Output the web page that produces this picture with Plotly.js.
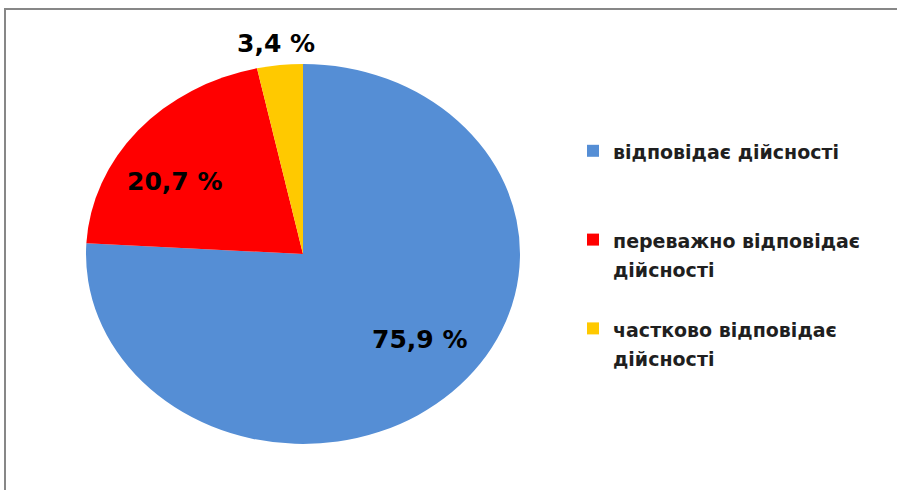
<!DOCTYPE html>
<html>
<head>
<meta charset="utf-8">
<script src="https://cdn.plot.ly/plotly-3.0.1.min.js"></script>
<style>
  html, body { margin: 0; padding: 0; background: #ffffff; overflow: hidden; }
  #chart { width: 897px; height: 490px; }
</style>
</head>
<body>
<div id="chart"></div>
<script>
// ---- data ----
const categories = [
  "відповідає дійсності",
  "переважно відповідає<br>дійсності",
  "частково відповідає<br>дійсності"
];
const values = [75.9, 20.7, 3.4];
const colors = ["#558ED5", "#FF0000", "#FFC900"];

// value label placement (paper pixels, layout only)
const labelPosPx = [[419, 339], [174, 181], [276, 44]];

const W = 897, H = 490;
const cx = 303, cyTop = 254, rx = 217, ry = 190;

// legend labels: shown at 19px, line pitch from the 22px legend font,
// with blank lines to reproduce the spacing between items
const legendLabels = categories.map((c, i) =>
  '<span style="font-size:19px">' + c + '</span>' + (c.indexOf("<br>") < 0 ? "<br>\u00a0<br>\u00a0" : "<br>\u00a0"));
const valueText = values.map(v => v.toFixed(1).replace(".", ",") + " %");

const trace = {
  type: "pie",
  labels: legendLabels,
  values: values,
  textinfo: "none",
  sort: false,
  direction: "clockwise",
  rotation: 0,
  marker: { colors: colors, line: { width: 0 } },
  hoverinfo: "none",
  domain: {
    x: [(cx - rx) / W, (cx + rx) / W],
    y: [(H - cyTop - rx) / H, (H - cyTop + rx) / H]
  }
};

const annotations = valueText.map((t, i) => ({
  text: t,
  xref: "paper", yref: "paper",
  x: labelPosPx[i][0] / W, y: 1 - labelPosPx[i][1] / H,
  xanchor: "center", yanchor: "middle",
  showarrow: false,
  font: { family: "DejaVu Sans", size: 25, color: "#000000", weight: "bold" }
}));

const layout = {
  width: W, height: H,
  margin: { l: 0, r: 0, t: 0, b: 0 },
  paper_bgcolor: "#ffffff",
  showlegend: true,
  legend: {
    x: 573 / W, xanchor: "left",
    y: 1 - 130 / H, yanchor: "top",
    valign: "top",
    font: { family: "DejaVu Sans", size: 22, color: "#1f1f1f", weight: "bold" },
    bgcolor: "rgba(0,0,0,0)",
    traceorder: "normal"
  },
  annotations: annotations,
  shapes: [{
    type: "rect", xref: "paper", yref: "paper",
    x0: 5 / W, x1: 1.05, y0: -0.05, y1: 1 - 9 / H,
    line: { color: "#878787", width: 2 }, fillcolor: "rgba(0,0,0,0)", layer: "below"
  }]
};

Plotly.newPlot("chart", [trace], layout, { displayModeBar: false, staticPlot: true }).then(gd => {
  // squash the circular pie into the ellipse of the reference
  const k = ry / rx;
  const cy = cyTop;
  document.querySelectorAll(".pielayer .slice path.surface").forEach(p => {
    p.setAttribute("transform", `translate(${cx},${cy}) scale(1,${k}) translate(${-cx},${-cy})`);
  });
});
</script>
</body>
</html>
